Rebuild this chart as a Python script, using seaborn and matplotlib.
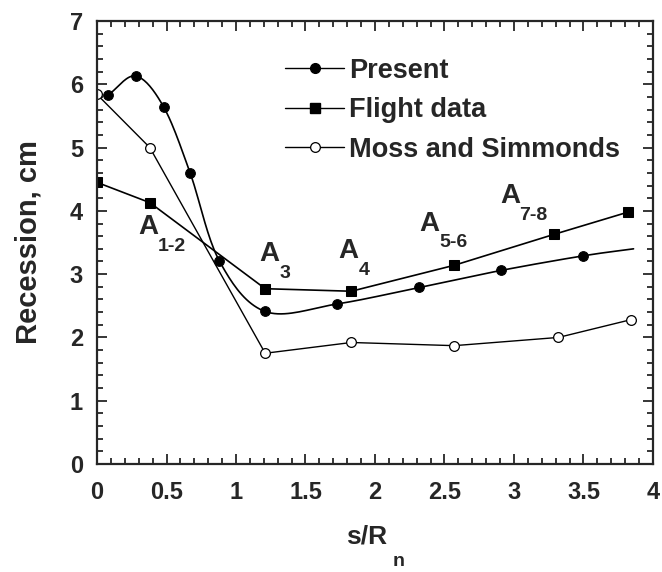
import numpy as np
import matplotlib
matplotlib.use('Agg')
import matplotlib.pyplot as plt
from matplotlib.lines import Line2D
import seaborn as sns

# values
present_x = [0.08, 0.28, 0.48, 0.67, 0.88, 1.21, 1.73, 2.32, 2.91, 3.50, 3.86]
present_y = [5.83, 6.13, 5.64, 4.60, 3.21, 2.41, 2.53, 2.79, 3.06, 3.29, 3.40]

flight_x = [0.0, 0.38, 1.21, 1.83, 2.57, 3.29, 3.82]
flight_y = [4.45, 4.13, 2.77, 2.73, 3.14, 3.63, 3.98]

moss_x = [0.0, 0.38, 1.21, 1.83, 2.57, 3.32, 3.84]
moss_y = [5.84, 5.00, 1.75, 1.92, 1.87, 2.00, 2.28]

# station labels: (x, y, subscript)
stations = [(0.37, 3.75, '1-2'), (1.24, 3.32, '3'), (1.81, 3.36, '4'),
            (2.39, 3.80, '5-6'), (2.97, 4.24, '7-8')]


def smooth(xs, ys, n=20):
    # catmull-rom through the points, only to draw the fitted curve
    p = np.column_stack([xs, ys])
    p = np.vstack([2 * p[0] - p[1], p, 2 * p[-1] - p[-2]])
    out = []
    t = np.linspace(0, 1, n, endpoint=False)[:, None]
    for i in range(1, len(p) - 2):
        p0, p1, p2, p3 = p[i - 1], p[i], p[i + 1], p[i + 2]
        seg = 0.5 * ((2 * p1) + (-p0 + p2) * t + (2 * p0 - 5 * p1 + 4 * p2 - p3) * t**2
                     + (-p0 + 3 * p1 - 3 * p2 + p3) * t**3)
        out.append(seg)
    out.append(p[-2][None, :])
    out = np.vstack(out)
    return out[:, 0], out[:, 1]


sns.set_style('ticks')
plt.rcParams['font.family'] = ['Liberation Sans', 'DejaVu Sans']
plt.rcParams['font.weight'] = 'bold'

fig, ax = plt.subplots(figsize=(6.62, 5.72), dpi=100)
fig.subplots_adjust(left=97 / 662, right=653 / 662, top=1 - 21 / 572, bottom=1 - 464 / 572)

ms = 7
sx, sy = smooth(present_x, present_y)
ax.plot(sx, sy, color='black', lw=1.2)
sns.lineplot(x=present_x[:-1], y=present_y[:-1], ax=ax, color='black', lw=0,
             marker='o', markersize=ms, markeredgecolor='black', sort=False)
sns.lineplot(x=flight_x, y=flight_y, ax=ax, color='black', lw=1.2,
             marker='s', markersize=ms, markeredgecolor='black', sort=False)
sns.lineplot(x=moss_x, y=moss_y, ax=ax, color='black', lw=1.0,
             marker='o', markersize=ms, markerfacecolor='white',
             markeredgecolor='black', markeredgewidth=0.9, sort=False)

handles = [
    Line2D([], [], color='black', lw=1.0, marker='o', markersize=ms),
    Line2D([], [], color='black', lw=1.0, marker='s', markersize=ms),
    Line2D([], [], color='black', lw=1.0, marker='o', markersize=ms,
           markerfacecolor='white', markeredgewidth=0.9),
]
ax.legend(handles, ['Present', 'Flight data', 'Moss and Simmonds'],
          loc='upper left', bbox_to_anchor=(0.295, 0.972), frameon=False,
          handlelength=2.15, handletextpad=0.2, labelspacing=0.5,
          prop={'weight': 'bold', 'size': 19.5})

for x, y, sub in stations:
    ax.text(x, y, 'A', fontsize=20, fontweight='bold', ha='center', va='center')
    ax.annotate(sub, (x, y), xytext=(7, -14), textcoords='offset points',
                fontsize=14, fontweight='bold', ha='left', va='center')

ax.set_xlim(0, 4)
ax.set_ylim(0, 7)
ax.set_xticks(np.arange(0, 4.01, 0.5))
ax.set_xticklabels(['0', '0.5', '1', '1.5', '2', '2.5', '3', '3.5', '4'])
ax.set_yticks(range(0, 8))
ax.set_xticks(np.arange(0, 4.01, 0.1), minor=True)
ax.set_yticks(np.arange(0, 7.01, 0.2), minor=True)
ax.tick_params(which='both', direction='in', top=True, right=True, width=1.3,
               labelsize=17)
ax.tick_params(axis='x', which='major', pad=12)
ax.tick_params(axis='y', which='major', pad=10)
ax.tick_params(which='major', length=7)
ax.tick_params(which='minor', length=4)
for lab in ax.get_xticklabels() + ax.get_yticklabels():
    lab.set_fontweight('bold')
for s in ax.spines.values():
    s.set_linewidth(1.6)

ax.set_ylabel('Recession, cm', fontsize=21, fontweight='bold', labelpad=20)
# x label with the deep subscript of the original
fig.text(367 / 662, 1 - 537 / 572, 's/R', fontsize=19, fontweight='bold',
         ha='center', va='center')
fig.text(399 / 662, 1 - 562 / 572, 'n', fontsize=14, fontweight='bold',
         ha='center', va='center')

fig.savefig('out.png', dpi=100)
